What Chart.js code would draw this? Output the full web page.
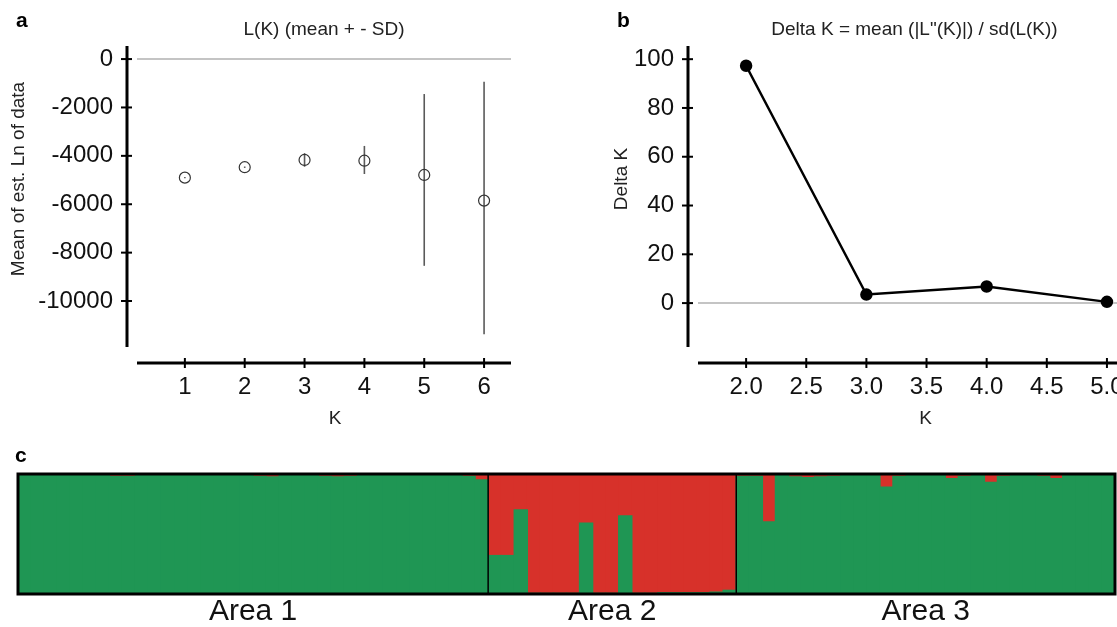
<!DOCTYPE html>
<html>
<head>
<meta charset="utf-8">
<script src="https://cdn.jsdelivr.net/npm/chart.js@4.4.1/dist/chart.umd.min.js"></script>
<style>
  html, body { margin: 0; padding: 0; background: #fff; }
  #fig { position: relative; width: 1117px; height: 627px; overflow: hidden; }
  canvas { position: absolute; }
</style>
</head>
<body>
<div id="fig">
  <canvas id="chartA" width="560" height="440" style="left:0;top:0"></canvas>
  <canvas id="chartB" width="620" height="440" style="left:560px;top:0"></canvas>
  <canvas id="chartC" width="1117" height="187" style="left:0;top:440px"></canvas>
</div>
<script>
const FONT = '"Liberation Sans", Arial, sans-serif';

// panel a: L(K), mean and +/- SD
const kA = [1, 2, 3, 4, 5, 6];
const meanLnA = [-4900, -4470, -4170, -4200, -4790, -5850];
const lowLnA = [-4930, -4500, -4450, -4750, -8545, -11370];
const highLnA = [-4870, -4440, -3890, -3590, -1445, -940];
const xTicksA = [1, 2, 3, 4, 5, 6];
const yTicksA = [0, -2000, -4000, -6000, -8000, -10000];

// panel b: Delta K
const kB = [2, 3, 4, 5];
const deltaK = [97.3, 3.5, 6.8, 0.5];
const xTicksB = [2, 2.5, 3, 3.5, 4, 4.5, 5];
const yTicksB = [0, 20, 40, 60, 80, 100];

// panel c: share of the red cluster for each individual
const areaNames = ["Area 1", "Area 2", "Area 3"];
const redArea1 = [0.01, 0.01, 0.015, 0.01, 0.01, 0.01, 0.01, 0.02, 0.02, 0.015,
                  0.01, 0.01, 0.01, 0.01, 0.01, 0.01, 0.01, 0.01, 0.02, 0.025,
                  0.015, 0.01, 0.01, 0.02, 0.025, 0.02, 0.01, 0.01, 0.01, 0.01,
                  0.01, 0.01, 0.01, 0.015, 0.02, 0.05];
const redArea2 = [0.68, 0.68, 0.30, 0.995, 0.995, 0.995, 0.995, 0.41, 0.995, 0.995,
                  0.35, 0.995, 0.995, 0.99, 0.99, 0.99, 0.99, 0.985, 0.97];
const redArea3 = [0.02, 0.02, 0.40, 0.01, 0.025, 0.03, 0.025, 0.02, 0.01, 0.01,
                  0.01, 0.11, 0.02, 0.01, 0.01, 0.015, 0.04, 0.02, 0.01, 0.07,
                  0.02, 0.01, 0.01, 0.02, 0.04, 0.015, 0.01, 0.01, 0.01];

function seg(ctx, x1, y1, x2, y2, w) {
    ctx.lineWidth = w;
    ctx.beginPath();
    ctx.moveTo(x1, y1);
    ctx.lineTo(x2, y2);
    ctx.stroke();
}

// detached axes, zero line, titles and panel letter
const panelDecor = {
    id: "panelDecor",
    beforeDatasetsDraw(chart, args, o) {
        const { ctx, chartArea: a, scales: { x, y } } = chart;
        ctx.save();
        ctx.strokeStyle = "#c4c4c4";
        const p0 = y.getPixelForValue(0);
        seg(ctx, a.left, p0, a.right, p0, 2);
        if (o.errLow) {
            ctx.strokeStyle = "#5a5a5a";
            o.errX.forEach((k, i) => {
                const px = x.getPixelForValue(k);
                seg(ctx, px, y.getPixelForValue(o.errLow[i]), px, y.getPixelForValue(o.errHigh[i]), 1.6);
            });
        }
        ctx.restore();
    },
    afterDraw(chart, args, o) {
        const { ctx, chartArea: a, scales: { x, y } } = chart;
        ctx.save();
        ctx.strokeStyle = "#000";
        const ax = a.left - 10, ay = a.bottom + 16;
        seg(ctx, ax, a.top, ax, a.bottom, 3);
        y.ticks.forEach(t => {
            const p = y.getPixelForValue(t.value);
            seg(ctx, ax - 6, p, ax + 5, p, 2);
        });
        seg(ctx, a.left, ay, a.right, ay, 3);
        x.ticks.forEach(t => {
            const p = x.getPixelForValue(t.value);
            seg(ctx, p, ay - 5, p, ay + 5, 2);
        });

        ctx.fillStyle = "#222";
        ctx.font = "19px " + FONT;
        ctx.textAlign = "center";
        ctx.textBaseline = "middle";
        ctx.fillText(o.title, (a.left + a.right) / 2, 30);
        ctx.fillText(o.xTitle, (a.left + a.right) / 2 + 11, 419);
        ctx.save();
        ctx.translate(o.yTitleX, 179);
        ctx.rotate(-Math.PI / 2);
        ctx.fillText(o.yTitle, 0, 0);
        ctx.restore();

        ctx.fillStyle = "#000";
        ctx.font = "bold 21px " + FONT;
        ctx.textAlign = "left";
        ctx.textBaseline = "alphabetic";
        ctx.fillText(o.letter, o.letterX, 27);
        ctx.restore();
    }
};

function tickFont() {
    return { size: 24, family: FONT };
}

// panel a
new Chart(document.getElementById("chartA"), {
    type: "scatter",
    data: {
        datasets: [{
            data: kA.map((k, i) => ({ x: k, y: meanLnA[i] })),
            pointRadius: 5.5,
            pointBorderWidth: 1.2,
            pointBorderColor: "#333",
            pointBackgroundColor: "rgba(0,0,0,0)"
        }]
    },
    options: {
        responsive: false,
        animation: false,
        events: [],
        layout: { padding: { top: 46, right: 49, left: 0, bottom: 0 } },
        scales: {
            x: {
                type: "linear", min: 0.2, max: 6.45,
                afterFit: s => { s.height = 93; },
                afterBuildTicks: s => { s.ticks = xTicksA.map(v => ({ value: v })); },
                grid: { display: false, drawTicks: false },
                border: { display: false },
                ticks: { padding: 26, font: tickFont(), color: "#111", autoSkip: false, maxRotation: 0, callback: v => String(v) }
            },
            y: {
                type: "linear", min: -11900, max: 540,
                afterFit: s => { s.width = 137; },
                afterBuildTicks: s => { s.ticks = yTicksA.map(v => ({ value: v })); },
                grid: { display: false, drawTicks: false },
                border: { display: false },
                ticks: { padding: 24, font: tickFont(), color: "#111", autoSkip: false, callback: v => String(v) }
            }
        },
        plugins: {
            legend: { display: false },
            tooltip: { enabled: false },
            panelDecor: {
                title: "L(K) (mean + - SD)", xTitle: "K", yTitle: "Mean of est. Ln of data",
                yTitleX: 19, letter: "a", letterX: 16,
                errX: kA, errLow: lowLnA, errHigh: highLnA
            }
        }
    },
    plugins: [panelDecor]
});

// panel b
new Chart(document.getElementById("chartB"), {
    type: "line",
    data: {
        datasets: [{
            data: kB.map((k, i) => ({ x: k, y: deltaK[i] })),
            borderColor: "#000",
            borderWidth: 2.5,
            pointRadius: 5,
            pointBackgroundColor: "#000",
            pointBorderColor: "#000",
            tension: 0
        }]
    },
    options: {
        responsive: false,
        animation: false,
        events: [],
        layout: { padding: { top: 46, right: 49, left: 0, bottom: 0 } },
        scales: {
            x: {
                type: "linear", min: 1.6, max: 5.2,
                afterFit: s => { s.height = 93; },
                afterBuildTicks: s => { s.ticks = xTicksB.map(v => ({ value: v })); },
                grid: { display: false, drawTicks: false },
                border: { display: false },
                ticks: { padding: 26, font: tickFont(), color: "#111", autoSkip: false, maxRotation: 0, callback: v => v.toFixed(1) }
            },
            y: {
                type: "linear", min: -18, max: 105.4,
                afterFit: s => { s.width = 138; },
                afterBuildTicks: s => { s.ticks = yTicksB.map(v => ({ value: v })); },
                grid: { display: false, drawTicks: false },
                border: { display: false },
                ticks: { padding: 24, font: tickFont(), color: "#111", autoSkip: false, callback: v => String(v) }
            }
        },
        plugins: {
            legend: { display: false },
            tooltip: { enabled: false },
            panelDecor: {
                title: "Delta K = mean (|L\"(K)|) / sd(L(K))", xTitle: "K", yTitle: "Delta K",
                yTitleX: 62, letter: "b", letterX: 57
            }
        }
    },
    plugins: [panelDecor]
});

// panel c: structure bar plot
const redShare = redArea1.concat(redArea2, redArea3);
const greenShare = redShare.map(v => 1 - v);
const areaSizes = [redArea1.length, redArea2.length, redArea3.length];
const individuals = [];
areaNames.forEach((name, j) => {
    for (let i = 0; i < areaSizes[j]; i++) individuals.push(name + " #" + (i + 1));
});

const structureFrame = {
    id: "structureFrame",
    afterDraw(chart) {
        const { ctx, chartArea: a, scales: { x } } = chart;
        const step = x.getPixelForValue(1) - x.getPixelForValue(0);
        ctx.save();
        ctx.strokeStyle = "#000";
        ctx.fillStyle = "#111";
        ctx.font = "30px " + FONT;
        ctx.textAlign = "center";
        ctx.textBaseline = "middle";
        let start = 0;
        areaSizes.forEach((n, j) => {
            const left = x.getPixelForValue(start) - step / 2;
            const right = x.getPixelForValue(start + n - 1) + step / 2;
            if (j > 0) seg(ctx, left, a.top, left, a.bottom, 1.5);
            ctx.fillText(areaNames[j], (left + right) / 2, a.bottom + 18);
            start += n;
        });
        ctx.lineWidth = 3;
        ctx.strokeRect(a.left, a.top, a.right - a.left, a.bottom - a.top);

        ctx.fillStyle = "#000";
        ctx.font = "bold 21px " + FONT;
        ctx.textAlign = "left";
        ctx.textBaseline = "alphabetic";
        ctx.fillText("c", 15, 22);
        ctx.restore();
    }
};

new Chart(document.getElementById("chartC"), {
    type: "bar",
    data: {
        labels: individuals,
        datasets: [
            { label: "cluster 1", data: greenShare, backgroundColor: "#1f9654", borderWidth: 0, inflateAmount: 0.7 },
            { label: "cluster 2", data: redShare, backgroundColor: "#d7312a", borderWidth: 0, inflateAmount: 0.5 }
        ]
    },
    options: {
        responsive: false,
        animation: false,
        events: [],
        layout: { padding: { top: 34, right: 2, left: 18, bottom: 33 } },
        datasets: { bar: { categoryPercentage: 1, barPercentage: 1 } },
        scales: {
            x: { display: false, stacked: true },
            y: { display: false, stacked: true, min: 0, max: 1 }
        },
        plugins: { legend: { display: false }, tooltip: { enabled: false } }
    },
    plugins: [structureFrame]
});
</script>
</body>
</html>
